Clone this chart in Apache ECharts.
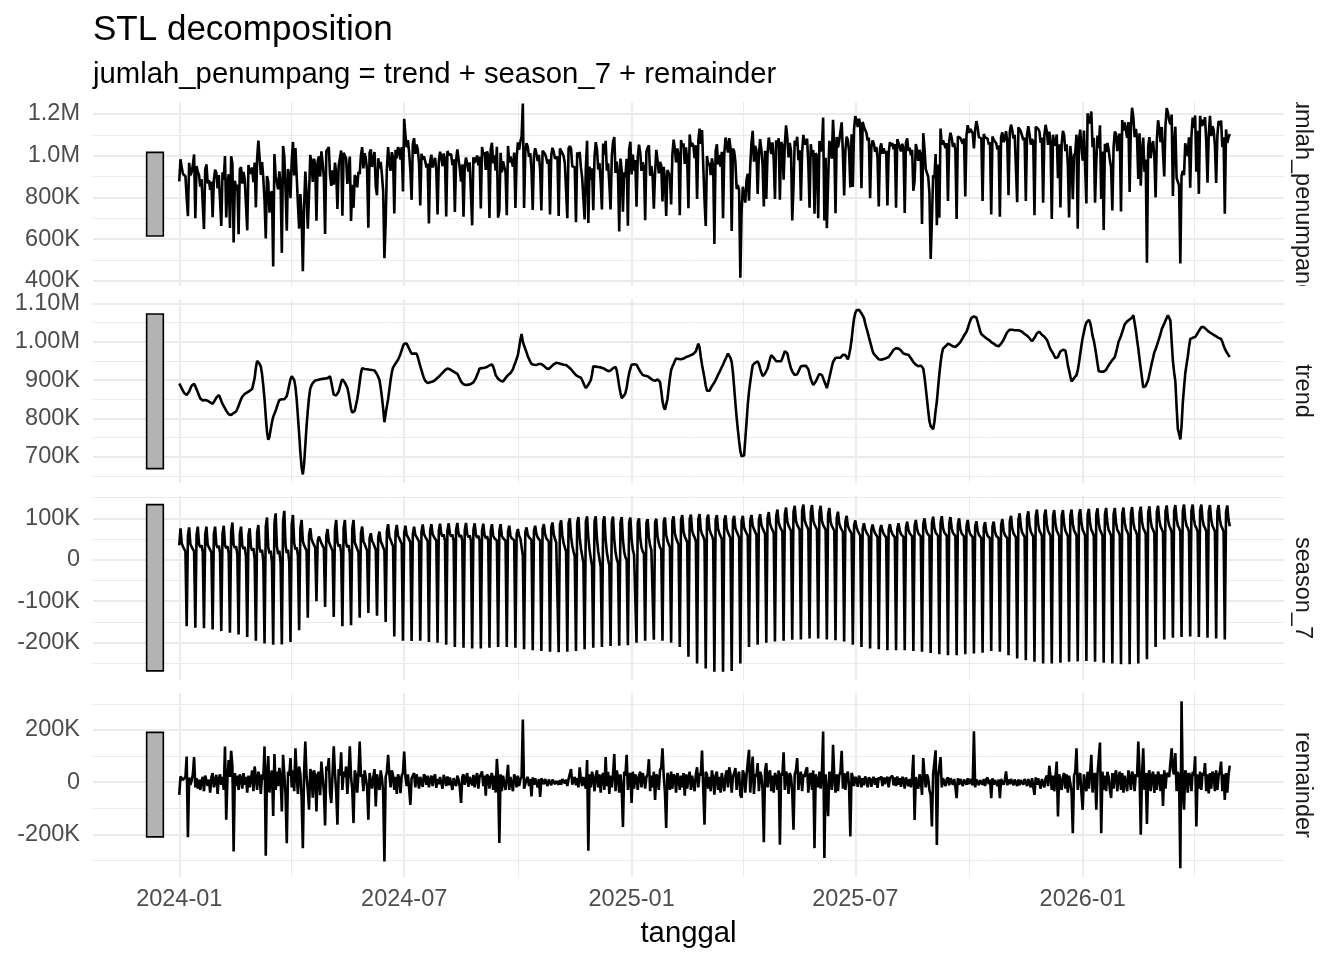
<!DOCTYPE html>
<html>
<head>
<meta charset="utf-8">
<title>STL decomposition</title>
<script src="https://cdn.jsdelivr.net/npm/echarts@6/dist/echarts.min.js"></script>
<style>
html, body { margin: 0; padding: 0; background: #fff; }
#chart { width: 1344px; height: 960px; }
</style>
</head>
<body>
<div id="chart"></div>
<script>
'use strict';

// komponen STL harian (ribuan penumpang), satu baris = satu minggu Senin..Minggu, mulai 2024-01-01
var trendK = [
    [891,885,878,872,866,862,861],[863,870,878,885,889,890,884],[876,868,860,852,848,847,848],[848,848,846,843,842,840,838],
    [842,848,854,859,861,855,845],[838,832,826,820,815,811,809],[809,811,814,817,818,825,833],[842,850,857,861,864,866,868],
    [870,872,874,877,880,905,932],[950,948,942,935,915,885,850],[805,765,744,752,772,790,804],[812,820,830,840,848,849,850],
    [850,850,850,858,872,888,902],[910,913,900,882,850,805,760],[710,672,654,680,730,780,820],[855,878,886,892,896,899,900],
    [900,901,902,902,903,903,904],[904,905,905,910,895,878,862],[857,860,865,870,882,895,902],[898,893,887,880,865,845,825],
    [815,811,820,835,850,870,895],[918,931,930,929,928,928,927],[927,926,926,925,925,922,915],[908,900,880,855,825,790,812],
    [832,850,875,900,920,933,938],[943,948,953,960,968,978,988],[995,997,995,990,982,975,969],[969,969,969,969,960,948,936],
    [926,915,905,898,893,892,893],[894,894,896,898,900,903,906],[909,912,915,919,922,926,929],[930,929,928,926,924,922,920],
    [920,916,910,903,896,892,889],[888,887,887,888,889,890,892],[894,898,905,913,921,930,931],[931,931,932,932,934,936,938],
    [940,941,935,925,913,908,903],[900,898,897,896,900,905,910],[913,916,918,920,928,938,946],[950,965,985,1005,1020,1000,990],
    [985,972,962,955,948,942,940],[940,939,939,940,942,943,942],[940,937,934,931,928,929,932],[935,938,941,944,945,945,944],
    [943,942,941,940,939,939,937],[934,931,928,925,920,917,913],[911,909,907,906,900,892,885],[879,882,888,894,900,915,936],
    [936,935,935,934,933,933,932],[931,929,927,925,923,922,925],[928,931,933,934,925,905,883],[866,853,855,860,866,880,900],
    [918,930,940,941,941,941,940],[935,928,922,917,913,912,911],[910,910,908,905,902,900,899],[898,899,902,905,895,872,845],
    [830,823,827,850,878,905,926],[935,942,950,956,956,955,954],[954,955,956,957,960,961,962],[964,965,966,968,969,975,985],
    [995,985,960,940,922,905,885],[872,868,872,878,884,889,894],[900,907,914,920,927,934,940],[948,955,962,969,965,958,947],
    [920,880,840,802,770,740,715],[701,700,703,745,790,835,870],[895,918,939,942,945,947,949],[942,930,920,910,913,917,920],
    [930,942,955,965,962,958,954],[949,949,949,949,949,957,966],[975,980,970,955,942,930,922],[918,913,909,915,922,929,936],
    [937,937,937,937,937,928,915],[903,894,887,890,896,903,910],[916,915,913,905,896,888,879],[892,906,920,934,947,952,958],
    [958,958,958,958,962,966,971],[965,960,954,965,982,1005,1035],[1060,1075,1082,1085,1083,1078,1074],[1072,1062,1048,1036,1025,1012,1000],
    [988,976,968,965,961,957,954],[952,953,954,955,956,957,959],[960,964,969,974,979,984,983],[982,982,980,977,973,969,968],
    [967,966,966,962,957,952,947],[943,940,938,936,934,938,943],[930,909,880,850,820,793,780],[775,772,790,820,844,880,915],
    [945,968,982,985,988,992,995],[994,992,990,988,986,986,988],[992,996,999,1004,1010,1016,1021],[1026,1035,1045,1055,1062,1067,1066],
    [1064,1063,1052,1040,1028,1020,1017],[1014,1011,1009,1007,1005,1002,999],[997,995,993,990,988,988,990],[995,999,1005,1012,1019,1025,1030],
    [1031,1031,1031,1030,1030,1030,1030],[1029,1029,1028,1026,1023,1020,1017],[1016,1013,1009,1005,1001,1004,1010],[1016,1022,1027,1026,1022,1018,1015],
    [1013,1012,1005,997,988,980,977],[970,963,957,953,960,968,975],[980,979,977,977,960,939,925],[910,896,900,905,909,913,925],
    [945,968,990,1010,1025,1040,1050],[1055,1057,1050,1035,1015,1003,985],[965,943,923,922,922,922,922],[922,927,933,938,943,947,952],
    [956,960,972,985,1000,1007,1015],[1025,1035,1045,1050,1053,1056,1058],[1059,1063,1069,1050,1030,1005,982],[955,930,905,881,883,885,887],
    [900,915,930,945,958,973,980],[990,1000,1010,1020,1033,1040,1047],[1055,1062,1069,1065,1055,1000,950],[920,896,830,772,760,745,780],
    [840,880,917,940,960,985,1007],[1009,1010,1011,1012,1016,1022,1028],[1033,1038,1040,1038,1035,1032,1029],[1026,1024,1022,1020,1018,1016,1014],
    [1012,1010,1008,1007,1000,990,982],[975,970,965,960]
];

var seasonK = [
    [35,76,40,32,36,20,-160],[58,78,38,31,35,20,-164],[60,80,37,30,35,19,-165],[61,80,36,30,34,18,-168],
    [62,80,36,29,34,17,-172],[63,82,35,28,33,15,-176],[68,90,36,28,33,12,-180],[62,80,34,26,31,8,-186],
    [60,76,30,22,28,2,-195],[66,84,28,18,24,-3,-202],[80,102,30,15,22,-6,-205],[88,112,32,14,22,-8,-204],
    [92,118,35,16,24,-5,-198],[85,108,40,25,30,10,-170],[76,96,45,35,38,22,-140],[60,76,50,42,45,30,-100],
    [45,56,48,40,44,28,-114],[58,74,44,36,40,22,-138],[75,96,42,32,37,16,-160],[76,96,40,30,35,14,-158],
    [75,96,42,34,38,18,-140],[64,80,44,38,42,22,-128],[52,64,45,40,43,24,-135],[55,68,45,38,42,22,-150],
    [68,86,55,48,52,32,-185],[66,84,58,52,56,38,-195],[65,82,60,55,58,42,-196],[62,80,60,55,58,44,-195],
    [68,85,62,56,60,45,-198],[70,86,62,56,60,46,-200],[70,87,63,56,61,46,-205],[71,88,63,56,61,46,-210],
    [72,89,63,55,60,46,-212],[72,89,62,54,59,46,-214],[71,88,61,53,58,46,-214],[70,87,60,52,57,46,-212],
    [70,86,58,52,55,46,-210],[70,86,58,52,54,46,-210],[68,82,58,52,54,47,-212],[62,74,58,52,52,10,-216],
    [66,78,60,54,52,48,-218],[70,82,62,54,50,46,-220],[74,86,62,52,48,44,-222],[78,90,62,50,42,38,-223],
    [84,95,58,40,30,20,-222],[88,100,56,34,20,8,-220],[90,103,54,28,10,-8,-216],[92,105,52,24,4,-15,-212],
    [92,105,50,20,2,-17,-210],[92,105,48,18,0,-14,-208],[91,104,48,18,2,-8,-207],[90,103,48,20,6,0,-206],
    [90,102,50,24,12,8,-200],[90,100,52,30,20,15,-195],[90,98,54,34,24,20,-193],[90,99,56,40,30,25,-195],
    [92,102,60,46,38,30,-200],[94,105,64,52,44,36,-210],[96,108,68,56,50,42,-234],[98,109,70,60,54,45,-250],
    [98,110,72,62,56,46,-262],[97,109,74,64,58,48,-270],[96,108,74,64,60,50,-270],[95,107,75,66,62,52,-268],
    [94,106,76,68,64,54,-250],[92,106,78,70,68,58,-210],[94,108,82,74,72,60,-205],[96,110,84,76,74,62,-200],
    [100,115,87,78,77,65,-197],[105,121,90,80,82,68,-195],[110,126,92,82,84,70,-193],[115,130,94,84,86,72,-192],
    [118,133,96,86,87,73,-190],[117,132,95,85,86,73,-190],[115,130,94,84,84,72,-192],[110,125,92,82,82,70,-194],
    [102,116,88,78,78,67,-197],[92,106,82,74,74,63,-205],[82,95,78,70,70,58,-210],[75,88,74,66,68,56,-214],
    [72,85,72,64,66,55,-216],[72,84,70,62,64,54,-218],[73,86,70,62,64,54,-218],[75,88,70,62,64,55,-218],
    [78,92,72,64,65,56,-220],[82,96,74,64,64,56,-222],[86,100,76,65,64,57,-225],[88,104,77,66,64,58,-228],
    [89,105,77,66,64,58,-230],[88,103,76,65,63,57,-230],[85,100,74,64,62,56,-228],[82,96,72,62,60,54,-226],
    [80,93,70,60,58,52,-224],[78,91,68,58,57,52,-220],[80,92,68,58,57,52,-222],[84,98,70,60,58,52,-230],
    [92,106,76,64,60,54,-238],[97,112,80,66,62,55,-242],[102,117,84,68,64,56,-246],[105,121,86,70,65,57,-250],
    [106,121,86,70,64,57,-250],[106,120,86,70,64,57,-248],[106,120,86,70,64,57,-246],[107,121,87,71,65,58,-245],
    [108,122,88,72,66,58,-244],[109,123,88,72,66,58,-246],[110,124,88,72,66,58,-248],[110,125,88,72,66,58,-250],
    [110,125,88,72,67,59,-252],[111,126,90,74,68,60,-252],[112,127,90,74,69,60,-250],[113,128,92,76,70,62,-240],
    [114,129,94,78,72,64,-210],[116,130,96,80,74,66,-192],[117,131,97,82,76,67,-188],[118,132,98,82,77,68,-186],
    [118,133,98,82,77,68,-185],[118,133,98,82,77,68,-186],[118,133,98,82,77,68,-188],[117,132,97,82,76,68,-190],
    [117,132,97,82,76,68,-192],[116,131,97,81]
];

var remainderK = [
    [-49,22,25,8,15,20,98],[-211,18,-10,5,30,96,-20],[15,-25,10,-30,5,20,-35],[25,30,-15,10,-40,18,35],
    [-20,5,28,-45,12,30,-10],[20,-30,137,-144,15,85,20],[120,60,-266,35,-15,25,-30],[30,15,-25,35,-10,20,-40],
    [25,-20,10,45,-35,60,15],[-30,40,20,-45,30,10,137],[-282,35,100,-40,20,45,-130],[108,-30,40,-15,55,20,-112],
    [105,30,-50,-234,40,25,92],[-20,45,-35,130,25,-45,60],[30,-60,-253,40,156,20,-30],[-106,50,35,-60,45,25,-112],
    [30,40,-50,79,20,-35,-166],[60,45,92,-40,-80,30,137],[35,-40,-163,50,25,114,-30],[40,20,60,-45,30,137,20],
    [-30,-157,45,25,-40,35,156],[20,30,-35,45,15,-20,-144],[35,40,-25,20,50,-93,30],[25,-30,45,15,-40,-304,20],
    [40,105,30,-20,45,25,-30],[20,-45,30,15,-42,25,35],[117,20,-15,30,-25,-87,15],[25,35,-20,30,10,-25,20],
    [15,-18,30,20,-10,25,-20],[10,25,-15,18,30,-22,12],[-8,20,15,-25,28,10,-15],[22,-12,18,25,-30,15,20],
    [-15,25,10,-20,-80,20,30],[-10,15,35,-18,20,25,-12],[28,-20,15,35,-25,20,30],[41,-15,25,-52,30,20,-25],
    [20,35,-30,25,-40,89,10],[-233,30,-35,25,20,-30,15],[66,-30,20,25,-35,30,15],[-20,25,-15,10,20,240,-25],
    [-30,10,20,-15,12,-55,18],[-10,15,8,-20,12,-57,15],[10,-8,12,5,-15,10,8],[-12,10,15,-8,5,12,-10],
    [8,-10,12,18,-5,10,-15],[12,15,50,-10,8,20,-12],[15,-20,57,10,-15,20,25],[-25,85,-263,30,-20,40,15],
    [-35,25,45,-20,30,-40,20],[35,-30,96,-15,40,-45,25],[-20,30,108,-35,45,20,-40],[30,-25,-172,40,25,105,-30],
    [20,35,-80,40,-25,30,15],[-30,25,40,-20,35,15,-25],[20,30,88,-35,25,-20,40],[-68,30,20,-30,45,57,130],
    [25,-40,-176,35,20,-30,40],[-25,30,20,-40,35,15,-30],[25,-20,35,-52,30,-25,20],[40,-30,25,20,-35,30,57],
    [-20,35,25,121,-30,-163,40],[30,-25,20,-35,45,15,-48],[25,40,-30,20,-40,35,30],[-35,25,45,-20,57,30,-40],
    [20,35,54,-30,25,40,-50],[-60,45,30,-40,25,20,124],[-40,35,98,-45,30,20,73],[-35,40,25,-30,-230,45,73],
    [-20,30,45,-35,25,-40,35],[20,-30,45,-240,35,25,114],[-30,40,25,-45,35,20,-40],[-182,30,45,92,-30,25,40],
    [-35,30,20,45,57,-40,25],[35,-30,45,-253,30,25,-20],[40,-25,35,194,-291,30,-35],[-131,40,25,-30,143,20,-40],
    [30,-35,25,40,120,-25,35],[-30,25,40,-20,-208,35,20],[-15,20,10,-18,25,12,-20],[15,-12,22,8,-20,18,10],
    [-18,12,20,-10,15,-22,18],[10,22,-15,18,-8,12,20],[-20,15,8,25,-12,18,-15],[22,-10,15,-18,20,10,-25],
    [18,25,-15,12,-20,20,105],[-145,20,15,-25,30,10,-49],[92,25,-20,30,15,-30,-50],[-170,30,25,122,-241,20,15],
    [96,-20,15,20,-15,10,18],[-12,15,20,-10,12,-18,-61],[15,-10,12,8,-15,10,12],[-10,15,-8,12,10,-12,195],
    [-20,10,15,-12,8,12,-10],[12,-15,10,18,-8,10,-61],[15,-10,8,12,-15,10,-61],[12,15,-10,8,41,-12,10],
    [-8,12,15,-12,10,8,-15],[10,-12,8,15,-10,12,8],[-15,12,10,-20,15,8,-49],[18,-10,15,20,-25,12,10],
    [-20,15,25,-15,63,20,-30],[25,-35,20,79,-132,30,25],[-30,20,35,-25,30,-40,25],[30,-35,-196,25,40,130,-30],
    [20,35,-40,-106,30,25,-35],[40,-25,30,105,-40,25,35],[-106,30,25,152,-196,40,-30],[25,-35,40,20,-30,-61,35],
    [-25,30,45,-35,20,40,-30],[35,-40,25,30,-35,45,20],[-30,40,25,-35,30,20,156],[40,-202,25,130,-30,35,-160],
    [30,45,-35,25,40,-41,30],[-30,40,25,-35,30,-91,45],[-25,35,40,20,20,130,45],[30,111,-35,40,20,-330,310],
    [-30,-106,45,30,-40,35,25],[-35,40,25,99,-170,30,-25],[40,-30,35,25,73,-35,30],[-43,35,-25,40,30,-35,45],
    [-30,25,40,79,-35,30,-68],[35,-40,25,63]
];

var panelNames = ['jumlah_penumpang', 'trend', 'season_7', 'remainder'];
var yTickValues = [[400, 600, 800, 1000, 1200], [700, 800, 900, 1000, 1100], [-200, -100, 0, 100], [-200, 0, 200]];
var yTickLabels = [['400K', '600K', '800K', '1.0M', '1.2M'], ['700K', '800K', '900K', '1.00M', '1.10M'], ['-200K', '-100K', '0', '100K'], ['-200K', '0', '200K']];
var yMinorValues = [[500, 700, 900, 1100], [650, 750, 850, 950, 1050], [-250, -150, -50, 50, 150], [-300, -100, 100, 300]];
var scaleBarLow = [615, 669, -268, -210];
var scaleBarHigh = [1016, 1072, 133, 191];
var xTickDates = ['2024-01-01', '2024-07-01', '2025-01-01', '2025-07-01', '2026-01-01'];
var xTickLabels = ['2024-01', '2024-07', '2025-01', '2025-07', '2026-01'];
var xMinorDates = ['2024-04-01', '2024-10-01', '2025-04-01', '2025-10-01', '2026-04-01'];

var DAY = 864e5;
var day0 = Date.UTC(2024, 0, 1);
var FONT = "'Liberation Sans', Arial, Helvetica, sans-serif";

function toTime(s) {
    var p = s.split('-');
    return Date.UTC(+p[0], +p[1] - 1, +p[2]);
}

function byDay(rows) {
    var out = [];
    rows.forEach(function (row, w) {
        row.forEach(function (v, i) {
            out.push([day0 + (w * 7 + i) * DAY, v]);
        });
    });
    return out;
}

var trend = byDay(trendK);
var season = byDay(seasonK);
var remainder = byDay(remainderK);
// jumlah_penumpang = trend + season_7 + remainder
var jumlah = trend.map(function (p, i) {
    return [p[0], p[1] + season[i][1] + remainder[i][1]];
});
var panelData = [jumlah, trend, season, remainder];

// tata letak panel (px) dan rentang sumbu
var panelTop = [102, 299, 496, 693];
var panelH = 184;
var yRange = [[375, 1257.6], [631.6, 1111.3], [-289.9, 153.8], [-363.7, 341.8]];
var xMin = day0 - 69.8 * DAY;
var xMax = day0 + 893.9 * DAY;
var barLeft = day0 - 26.4 * DAY;
var barRight = day0 - 12.9 * DAY;

var xTicks = xTickDates.map(toTime);
var xMinor = xMinorDates.map(toTime);

function gridLines(i) {
    var major = {color: '#ebebeb', width: 1.8, type: 'solid'};
    var minor = {color: '#ebebeb', width: 1, type: 'solid'};
    var out = [];
    yMinorValues[i].forEach(function (v) { out.push({yAxis: v, lineStyle: minor}); });
    yTickValues[i].forEach(function (v) { out.push({yAxis: v, lineStyle: major}); });
    xMinor.forEach(function (t) { out.push({xAxis: t, lineStyle: minor}); });
    xTicks.forEach(function (t) { out.push({xAxis: t, lineStyle: major}); });
    return out;
}

var grids = [], xAxes = [], yAxes = [], series = [];
panelNames.forEach(function (name, i) {
    grids.push({left: 93, right: 60, top: panelTop[i], height: panelH});
    xAxes.push({
        type: 'value', gridIndex: i, min: xMin, max: xMax,
        axisLine: {show: false}, axisTick: {show: false}, splitLine: {show: false},
        axisLabel: i === 3 ? {
            customValues: xTicks,
            formatter: function (v) {
                var k = xTicks.indexOf(+v);
                return k >= 0 ? xTickLabels[k] : '';
            },
            fontFamily: FONT, fontSize: 23.5, color: '#4d4d4d', margin: 11
        } : {show: false}
    });
    yAxes.push({
        type: 'value', gridIndex: i, min: yRange[i][0], max: yRange[i][1],
        axisLine: {show: false}, axisTick: {show: false}, splitLine: {show: false},
        axisLabel: {
            customValues: yTickValues[i],
            formatter: function (v) {
                var k = yTickValues[i].indexOf(+v);
                return k >= 0 ? yTickLabels[i][k] : '';
            },
            fontFamily: FONT, fontSize: 23.5, color: '#4d4d4d', margin: 13
        }
    });
    series.push({
        name: name, type: 'line', xAxisIndex: i, yAxisIndex: i,
        data: panelData[i], showSymbol: false, symbol: 'none',
        lineStyle: {color: '#000', width: 2.6}, z: 3, silent: true, animation: false,
        markLine: {
            silent: true, symbol: 'none', z: 1, animation: false,
            label: {show: false},
            data: gridLines(i)
        }
    });
    // batang skala abu-abu di kiri tiap panel
    series.push({
        type: 'custom', xAxisIndex: i, yAxisIndex: i, z: 4, silent: true, animation: false,
        encode: {x: [0, 1], y: [2, 3]},
        data: [[barLeft, barRight, scaleBarLow[i], scaleBarHigh[i]]],
        renderItem: function (params, api) {
            var p1 = api.coord([api.value(0), api.value(3)]);
            var p2 = api.coord([api.value(1), api.value(2)]);
            return {
                type: 'rect',
                shape: {x: p1[0], y: p1[1], width: p2[0] - p1[0], height: p2[1] - p1[1]},
                style: {fill: '#b3b3b3', stroke: '#000', lineWidth: 1.6}
            };
        }
    });
});

var graphics = [
    {type: 'text', x: 93, y: 30, style: {text: 'STL decomposition', fontFamily: FONT, fontSize: 35, fill: '#000', textVerticalAlign: 'middle'}},
    {type: 'text', x: 93, y: 75, style: {text: 'jumlah_penumpang = trend + season_7 + remainder', fontFamily: FONT, fontSize: 29.3, fill: '#000', textVerticalAlign: 'middle'}},
    {type: 'text', x: 688.5, y: 934, style: {text: 'tanggal', fontFamily: FONT, fontSize: 29.3, fill: '#000', textAlign: 'center', textVerticalAlign: 'middle'}}
];
panelNames.forEach(function (name, i) {
    graphics.push({
        type: 'text', x: 1302, y: panelTop[i] + panelH / 2, rotation: -Math.PI / 2, z: 50,
        style: {text: name, fontFamily: FONT, fontSize: 23.5, fill: '#1a1a1a', textAlign: 'center', textVerticalAlign: 'middle'}
    });
});
// label strip dipotong sebatas tinggi panel
graphics.push({type: 'rect', z: 100, shape: {x: 1286, y: 60, width: 40, height: panelTop[0] - 60}, style: {fill: '#fff'}});
graphics.push({type: 'rect', z: 100, shape: {x: 1286, y: panelTop[0] + panelH, width: 40, height: panelTop[1] - panelTop[0] - panelH}, style: {fill: '#fff'}});

var myChart = echarts.init(document.getElementById('chart'), null, {renderer: 'canvas', width: 1344, height: 960});
myChart.setOption({
    backgroundColor: '#fff',
    animation: false,
    textStyle: {fontFamily: FONT},
    grid: grids,
    xAxis: xAxes,
    yAxis: yAxes,
    series: series,
    graphic: graphics
});
</script>
</body>
</html>
